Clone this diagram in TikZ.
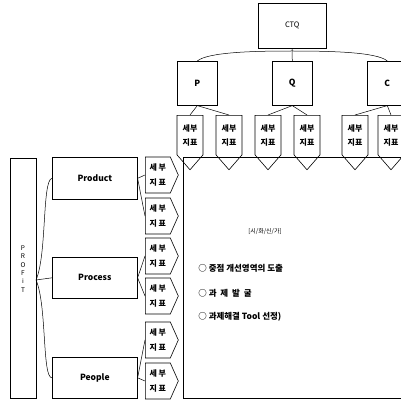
\documentclass[tikz,border=0pt]{standalone}
\usepackage{fontspec}
\setmainfont{Noto Sans CJK KR}
\usetikzlibrary{shapes.symbols}
\begin{document}
\begin{tikzpicture}[x=1pt,y=-1pt,line width=0.6pt,
  box/.style={draw,anchor=north west,inner sep=0pt,font=\bfseries\fontsize{8.5}{10}\selectfont},
  downsig/.style={draw,shape=signal,signal to=south,signal pointer angle=82,minimum width=26pt,minimum height=48pt,inner sep=0pt,anchor=north,align=center,font=\bfseries\fontsize{8}{14}\selectfont},
  rightsig/.style={draw,shape=signal,signal to=east,signal pointer angle=132,minimum width=33pt,minimum height=36pt,inner sep=0pt,anchor=west,align=center,font=\bfseries\fontsize{8}{15}\selectfont},
  link/.style={draw,line width=0.5pt},
  bul/.style={anchor=west,inner sep=0pt,font=\bfseries\fontsize{8.5}{10}\selectfont}]
\useasboundingbox (0,0) rectangle (401,401);
\clip (0,0) rectangle (401,401);
% big box
\node[draw,line width=0.8pt,anchor=north west,minimum width=230pt,minimum height=241pt,inner sep=0pt] (main) at (183,157) {};
% top hierarchy
\node[box,minimum width=68pt,minimum height=45pt,font=\fontsize{7.5}{9}\selectfont] (ctq) at (258,3) {CTQ};
\node[box,minimum width=40pt,minimum height=44pt] (p) at (177,61) {P};
\node[box,minimum width=40pt,minimum height=44pt] (q) at (272,61) {Q};
\node[box,minimum width=40pt,minimum height=44pt] (c) at (367,61) {C};
\coordinate (hub) at (292,51);
\draw[link] (ctq.south) -- (hub);
\draw[link] (hub) .. controls (255,51) and (208,52) .. (p.north);
\draw[link] (hub) -- (q.north);
\draw[link] (hub) .. controls (330,51) and (377,52) .. (c.north);
\node[downsig] (t1) at (190,115) {세부\\지표};
\node[downsig] (t2) at (229,115) {세부\\지표};
\node[downsig] (t3) at (268,115) {세부\\지표};
\node[downsig] (t4) at (307,115) {세부\\지표};
\node[downsig] (t5) at (355,115) {세부\\지표};
\node[downsig] (t6) at (391,115) {세부\\지표};
\foreach \a/\b in {p/t1,p/t2,q/t3,q/t4,c/t5,c/t6} \draw[link] (\a.south) -- (\b.north);
% left hierarchy
\node[box,minimum width=26pt,minimum height=240pt] (profit) at (10,158) {};
\node[align=center,inner sep=0pt,font=\fontsize{6.5}{8.4}\selectfont] at (23,269) {P\\R\\O\\F\\i\\T};
\node[box,minimum width=85pt,minimum height=42pt] (prod) at (52,157) {Product};
\node[box,minimum width=85pt,minimum height=41pt] (proc) at (52,257) {Process};
\node[box,minimum width=85pt,minimum height=41pt] (peop) at (52,357) {People};
\coordinate (pf) at (36,280);
\draw[link] (pf) .. controls (47,255) and (42,180) .. (prod.west);
\draw[link] (pf) -- (proc.west);
\draw[link] (pf) .. controls (47,305) and (42,378) .. (peop.west);
\node[rightsig] (l1) at (145,175) {세 부\\지 표};
\node[rightsig] (l2) at (145,216) {세 부\\지 표};
\node[rightsig] (l3) at (145,256) {세 부\\지 표};
\node[rightsig] (l4) at (145,296) {세 부\\지 표};
\node[rightsig] (l5) at (145,340) {세 부\\지 표};
\node[rightsig] (l6) at (145,381) {세 부\\지 표};
\foreach \a/\b in {prod/l1,prod/l2,proc/l3,proc/l4,peop/l5,peop/l6} \draw[link] (\a.east) -- (\b.west);
% contents
\node[inner sep=0pt,font=\fontsize{6}{7}\selectfont] (br) at (265,232) {[시/화/신/가]};
\node[bul] (b1) at (198,268) {○ 중점 개선영역의 도출};
\node[bul] (b2) at (198,293) {○ 과\ \ 제\ \ 발\ \ 굴};
\node[bul] (b3) at (198,317) {○ 과제해결 Tool 선정)};
\end{tikzpicture}
\end{document}
